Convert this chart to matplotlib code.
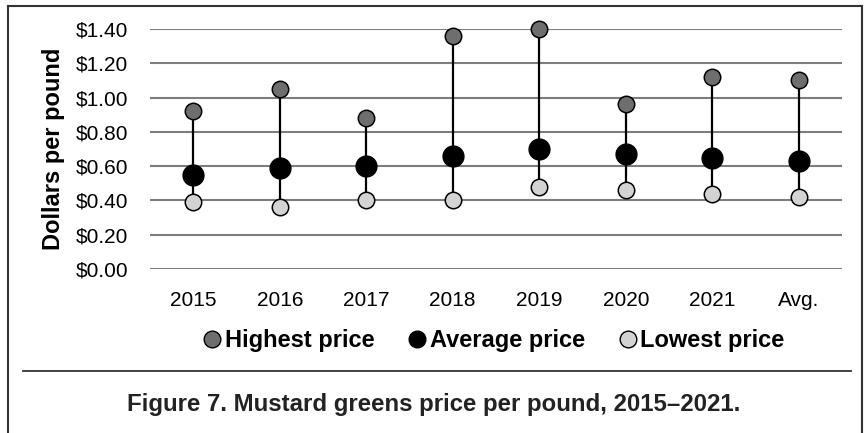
import matplotlib
matplotlib.use('Agg')
import matplotlib.pyplot as plt
from matplotlib.lines import Line2D

# --- data ---
years = ['2015', '2016', '2017', '2018', '2019', '2020', '2021', 'Avg.']
highest = [0.92, 1.05, 0.88, 1.36, 1.40, 0.96, 1.12, 1.10]
average = [0.55, 0.59, 0.60, 0.66, 0.70, 0.67, 0.65, 0.63]
lowest = [0.39, 0.36, 0.40, 0.40, 0.48, 0.46, 0.44, 0.42]
yticks = [0.0, 0.2, 0.4, 0.6, 0.8, 1.0, 1.2, 1.4]

HIGH_C = '#6e6e6e'
AVG_C = '#000000'
LOW_C = '#d3d3d3'

plt.rcParams['font.family'] = ['Liberation Sans', 'DejaVu Sans']

W, H = 867, 433
fig = plt.figure(figsize=(W / 100, H / 100), dpi=100)
ax = fig.add_axes([150 / W, 1 - 269 / H, 692 / W, 240 / H])

x = list(range(len(years)))

# gridlines
for t in yticks:
    ax.axhline(t, color='#7d7d7d', linewidth=1.5, zorder=1)

# range stems
ax.vlines(x, lowest, highest, color='black', linewidth=1.6, zorder=2)

ax.scatter(x, highest, s=140, color=HIGH_C, edgecolor='black', linewidth=1.1, zorder=3, clip_on=False)
ax.scatter(x, lowest, s=140, color=LOW_C, edgecolor='black', linewidth=1.1, zorder=3, clip_on=False)
ax.scatter(x, average, s=225, color=AVG_C, edgecolor='black', linewidth=1.0, zorder=4, clip_on=False)

ax.set_xlim(-0.5, len(years) - 0.5)
ax.set_ylim(0, 1.4)
ax.set_xticks(x)
ax.set_xticklabels(years)
ax.set_yticks(yticks)
ax.set_yticklabels([f'${t:.2f}' for t in yticks])
ax.tick_params(axis='both', length=0, labelsize=15)
ax.tick_params(axis='x', pad=15.5)
ax.tick_params(axis='y', pad=15.5)
for s in ax.spines.values():
    s.set_visible(False)

ax.set_ylabel('Dollars per pound', fontsize=17, fontweight='bold', labelpad=8)

handles = [
    Line2D([], [], marker='o', linestyle='none', markersize=12, markerfacecolor=c,
           markeredgecolor='black', markeredgewidth=1.0)
    for c in (HIGH_C, AVG_C, LOW_C)
]
fig.legend(handles, ['Highest price', 'Average price', 'Lowest price'],
           loc='center', bbox_to_anchor=(494 / W, 1 - 341 / H), ncol=3, frameon=False,
           handletextpad=0.15, columnspacing=1.45, handlelength=0.75, borderpad=0,
           prop={'size': 17, 'weight': 'bold'})

# outer frame and separator
frame_c = '#333333'
top = 1 - 6 / H
fig.add_artist(Line2D([8 / W, 8 / W], [0, top], color=frame_c, linewidth=1.5))
fig.add_artist(Line2D([862 / W, 862 / W], [0, top], color=frame_c, linewidth=1.5))
fig.add_artist(Line2D([8 / W, 862 / W], [top, top], color=frame_c, linewidth=1.5))
fig.add_artist(Line2D([23 / W, 851 / W], [1 - 371 / H, 1 - 371 / H], color=frame_c, linewidth=1.3))

fig.text(434 / W, 1 - 405 / H, 'Figure 7. Mustard greens price per pound, 2015\u20132021.',
         ha='center', va='center', fontsize=17.3, fontweight='bold', color='#222222')

fig.savefig('out.png', dpi=100)
